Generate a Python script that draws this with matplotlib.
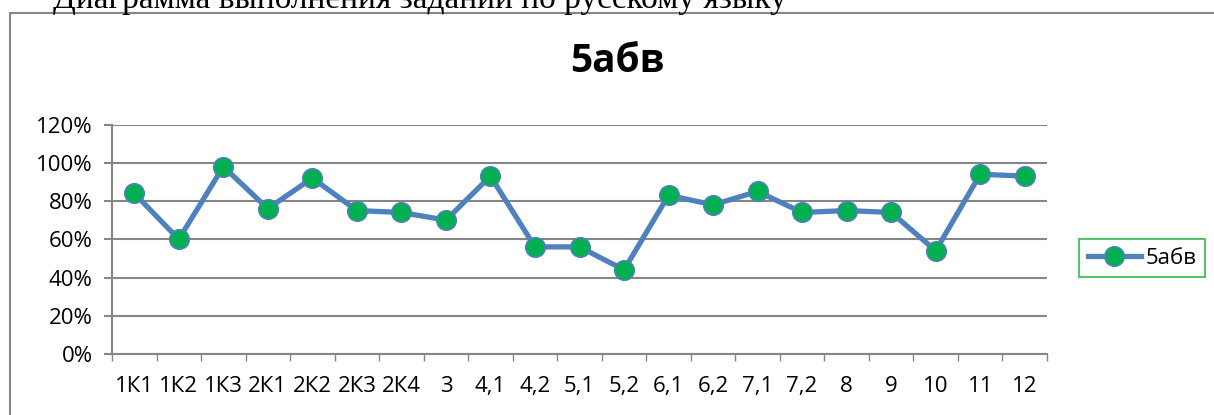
import matplotlib
matplotlib.use('Agg')
import matplotlib.pyplot as plt
from matplotlib.lines import Line2D
from matplotlib.ticker import FixedLocator, PercentFormatter

# data
tasks = ['1К1', '1К2', '1К3', '2К1', '2К2', '2К3', '2К4', '3', '4,1', '4,2', '5,1',
         '5,2', '6,1', '6,2', '7,1', '7,2', '8', '9', '10', '11', '12']
share_5abv = [84, 60, 98, 76, 92, 75, 74, 70, 93, 56, 56,
              44, 83, 78, 85, 74, 75, 74, 54, 94, 93]
series_name = '5абв'
header = 'Диаграмма выполнения заданий по русскому языку'

plt.rcParams['font.family'] = ['Open Sans', 'DejaVu Sans']

W, H = 1214, 415
fig = plt.figure(figsize=(W / 100, H / 100), dpi=100)

# header text from the document, cut off by the top edge
fig.text(53 / W, 1 - 8 / H, header, family=['Liberation Serif', 'DejaVu Serif'],
         fontsize=24, ha='left', va='baseline')

# chart frame (only left and top edges are visible)
grey = '#868686'
fig.add_artist(Line2D([10 / W, 10 / W], [0, 1 - 13 / H], color=grey, lw=1.5))
fig.add_artist(Line2D([10 / W, 1], [1 - 13 / H, 1 - 13 / H], color=grey, lw=1.5))

ax = fig.add_axes([112 / W, 1 - 354 / H, (1047 - 112) / W, (354 - 124.5) / H])

x = list(range(len(tasks)))
ax.plot(x, share_5abv, color='#4F81BD', lw=3.8, marker='o', markersize=14,
        markerfacecolor='#00B050', markeredgecolor='#4F81BD', markeredgewidth=1.2,
        solid_joinstyle='round', label=series_name, zorder=3)

ax.set_xlim(-0.5, len(tasks) - 0.5)
ax.set_ylim(0, 120)
ax.set_yticks(range(0, 121, 20))
ax.yaxis.set_major_formatter(PercentFormatter(decimals=0))
ax.grid(axis='y', color=grey, lw=1.5)
ax.set_axisbelow(True)

ax.set_xticks(x)
ax.set_xticklabels(tasks)
ax.xaxis.set_minor_locator(FixedLocator([i - 0.5 for i in range(len(tasks) + 1)]))
ax.tick_params(axis='x', which='major', length=0, pad=16, labelsize=16)
ax.tick_params(axis='x', which='minor', length=5, color=grey, width=1)
ax.tick_params(axis='y', length=6, color=grey, width=1.5, pad=8, labelsize=16)

for side in ['top', 'right']:
    ax.spines[side].set_visible(False)
for side in ['left', 'bottom']:
    ax.spines[side].set_color(grey)
    ax.spines[side].set_linewidth(1.5)

fig.text(617 / W, 1 - 62 / H, series_name, fontsize=28, fontweight='bold',
         ha='center', va='center')

leg = fig.legend(loc='center', bbox_to_anchor=(1142 / W, 1 - 258 / H),
                 fontsize=16, frameon=True, fancybox=False, handlelength=2.4,
                 borderpad=0.4, handletextpad=0.2)
leg.get_frame().set_edgecolor('#2DB34A')
leg.get_frame().set_linewidth(1.5)

fig.savefig('out.png', dpi=100)
